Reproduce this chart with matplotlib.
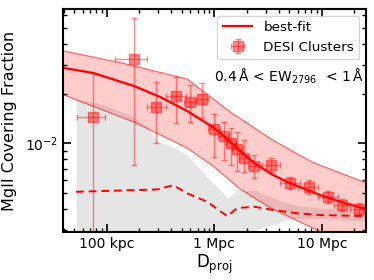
import matplotlib
matplotlib.use("Agg")
import matplotlib.pyplot as plt
import numpy as np
from matplotlib.ticker import FixedLocator, FixedFormatter, NullFormatter

# DESI cluster points (D_proj in Mpc, covering fraction)
d_proj = [0.0749, 0.180, 0.289, 0.443, 0.598, 0.773, 1.00, 1.24, 1.44, 1.64,
          1.90, 2.36, 3.39, 5.09, 7.65, 11.5, 15.5, 22.3]
d_lo = [0.0528, 0.120, 0.2366, 0.3577, 0.526, 0.680, 0.880, 1.089, 1.293, 1.470,
        1.708, 2.072, 2.796, 4.11, 6.04, 9.28, 13.06, 18.41]
d_hi = [0.0974, 0.2396, 0.3577, 0.549, 0.680, 0.880, 1.137, 1.379, 1.602, 1.822,
        2.116, 2.679, 4.11, 6.31, 9.28, 14.24, 18.41, 25.9]
frac = [0.01443, 0.0324, 0.0166, 0.0194, 0.0178, 0.01856, 0.01222, 0.01107, 0.01004, 0.00924,
        0.00815, 0.00728, 0.00738, 0.00574, 0.00543, 0.00473, 0.00423, 0.00400]
frac_lo = [0.001, 0.00742, 0.0100, 0.01327, 0.01346, 0.01422, 0.00826, 0.00792, 0.00739, 0.00680,
           0.0067, 0.00617, 0.0067, 0.00529, 0.00493, 0.00435, 0.00389, 0.00368]
frac_hi = [0.0268, 0.0577, 0.0234, 0.0252, 0.02256, 0.0232, 0.01506, 0.01346, 0.0124, 0.0117,
           0.01047, 0.0085, 0.00815, 0.00626, 0.00601, 0.00514, 0.00459, 0.00435]

# best-fit curve
fit_x = [0.0402, 0.0749, 0.180, 0.3145, 0.561, 1.0, 1.321, 1.745, 2.36, 3.39,
         4.77, 7.02, 9.68, 16.2, 25.9]
fit_y = [0.0286, 0.0267, 0.02225, 0.0191, 0.0157, 0.01239, 0.01061, 0.00898, 0.0076, 0.00652,
         0.00583, 0.00528, 0.00486, 0.00435, 0.0040]

# uncertainty band edges
band_up_x = [0.0402, 0.138, 0.561, 1.41, 3.50, 8.12, 25.9]
band_up_y = [0.03626, 0.0307, 0.02453, 0.01549, 0.01047, 0.0077, 0.00575]
band_lo_x = [0.0402, 0.180, 0.561, 1.0, 1.745, 3.24, 6.31, 10.0, 25.9]
band_lo_y = [0.01963, 0.01346, 0.00937, 0.00719, 0.00528, 0.00411, 0.00333, 0.0029, 0.00239]

# background (dashed) and its grey range
bg_x = [0.0520, 0.295, 0.4157, 0.561, 0.861, 1.321, 1.637, 2.36, 3.615, 5.92, 9.68, 25.9]
bg_y = [0.00509, 0.00526, 0.00558, 0.00498, 0.00443, 0.003625, 0.00406, 0.00413, 0.00394,
        0.00377, 0.00368, 0.003625]
grey_x = [0.052, 0.0749, 0.1078, 0.180, 0.254, 0.295, 0.4157, 0.561, 1.321, 1.637,
          2.03, 2.36, 3.32, 4.77, 5.92, 9.68, 25.9]
grey_up = [0.01856, 0.0178, 0.0166, 0.01443, 0.01204, 0.01033, 0.0095, 0.0085, 0.00466, 0.00521,
           0.00521, 0.00521, 0.00475, 0.00435, 0.0042, 0.00406, 0.00389]
grey_lo = [0.001, 0.001, 0.001, 0.001, 0.001, 0.001, 0.001, 0.001, 0.001, 0.001,
           0.0029, 0.00298, 0.0032, 0.00345, 0.003525, 0.0035, 0.00338]

fig = plt.figure(figsize=(3.74, 2.8), dpi=100)
ax = fig.add_axes([0.169, 0.171, 0.810, 0.797])

ax.fill_between(grey_x, grey_lo, grey_up, color='grey', alpha=0.2, lw=0)
# pink band: polygon from upper and lower edges
poly_x = band_up_x + band_lo_x[::-1]
poly_y = band_up_y + band_lo_y[::-1]
ax.fill(poly_x, poly_y, color='red', alpha=0.2, lw=0)
ax.plot(band_up_x, band_up_y, color='red', lw=0.8, alpha=0.6)
ax.plot(band_lo_x, band_lo_y, color='red', lw=0.8, alpha=0.6)

ax.plot(fit_x, fit_y, color='red', lw=1.6, label='best-fit')
ax.plot(bg_x, bg_y, color='red', lw=1.4, ls='--', dashes=(4, 2.5))

xerr = [np.array(d_proj) - np.array(d_lo), np.array(d_hi) - np.array(d_proj)]
yerr = [np.array(frac) - np.array(frac_lo), np.array(frac_hi) - np.array(frac)]
ax.errorbar(d_proj, frac, xerr=xerr, yerr=yerr, fmt='s', color='red', ms=7,
            alpha=0.45, elinewidth=1, capsize=2, label='DESI Clusters')

ax.set_xscale('log')
ax.set_yscale('log')
ax.set_xlim(0.0395, 25.8)
ax.set_ylim(0.0029, 0.0652)

ax.xaxis.set_major_locator(FixedLocator([0.1, 1, 10]))
ax.xaxis.set_major_formatter(FixedFormatter(['100 kpc', '1 Mpc', '10 Mpc']))
ax.xaxis.set_minor_formatter(NullFormatter())
ax.yaxis.set_minor_formatter(NullFormatter())

ax.tick_params(which='both', direction='in', top=True, right=True, labelsize=10)
ax.tick_params(which='major', length=6, width=1.2)
ax.tick_params(which='minor', length=3, width=1)
for s in ax.spines.values():
    s.set_linewidth(1.5)

ax.set_xlabel(r'D$_{\rm proj}$', fontsize=12, labelpad=1)
ax.set_ylabel('MgII Covering Fraction', fontsize=11.5, labelpad=6)

ax.text(0.745, 0.70, u'0.4\u2009Å < EW$_{2796}$  < 1\u2009Å', transform=ax.transAxes,
        ha='center', va='center', fontsize=10)
ax.legend(loc='upper right', fontsize=9.7, handlelength=2.2, borderaxespad=0.5)

fig.savefig('out.png', dpi=100)
